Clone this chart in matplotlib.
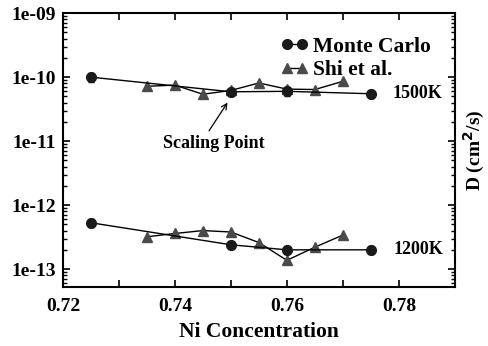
import matplotlib
matplotlib.use('Agg')
import matplotlib.pyplot as plt
from matplotlib.lines import Line2D
from matplotlib.ticker import FixedLocator, MultipleLocator, LogLocator, NullFormatter

plt.rcParams['font.family'] = ['Liberation Serif', 'DejaVu Serif']
plt.rcParams['font.weight'] = 'bold'

# Monte Carlo results
mc_x = [0.725, 0.75, 0.76, 0.775]
mc_1500 = [1.0e-10, 5.9e-11, 6.0e-11, 5.5e-11]
mc_1200 = [5.3e-13, 2.4e-13, 2.0e-13, 2.0e-13]
mc_err_frac = 0.15

# Shi et al.
shi_x = [0.735, 0.74, 0.745, 0.75, 0.755, 0.76, 0.765, 0.77]
shi_1500 = [7.2e-11, 7.5e-11, 5.4e-11, 6.2e-11, 8.1e-11, 6.5e-11, 6.4e-11, 8.6e-11]
shi_1200 = [3.2e-13, 3.6e-13, 4.0e-13, 3.8e-13, 2.6e-13, 1.37e-13, 2.2e-13, 3.4e-13]

fig = plt.figure(figsize=(4.88, 3.46), dpi=100)
ax = fig.add_axes([0.129, 0.1705, 0.803, 0.7915])

mc_style = dict(color='black', marker='o', mfc='#1a1a1a', mec='#1a1a1a', ms=7, lw=1)
shi_style = dict(color='black', marker='^', mfc='#4a4a4a', mec='#4a4a4a', ms=7, lw=1)

for mc, shi in [(mc_1500, shi_1500), (mc_1200, shi_1200)]:
    ax.errorbar(mc_x, mc, yerr=[v * mc_err_frac for v in mc], capsize=2, elinewidth=1,
                zorder=3, **mc_style)
    ax.plot(shi_x, shi, zorder=2, **shi_style)

ax.set_yscale('log')
ax.set_xlim(0.72, 0.79)
ax.set_ylim(10 ** -13.28, 1e-9)

ax.xaxis.set_major_locator(MultipleLocator(0.02))
ax.xaxis.set_minor_locator(MultipleLocator(0.01))
ax.yaxis.set_major_locator(FixedLocator([1e-13, 1e-12, 1e-11, 1e-10, 1e-9]))
ax.yaxis.set_minor_locator(LogLocator(base=10, subs=range(2, 10), numticks=20))
ax.yaxis.set_minor_formatter(NullFormatter())
ax.set_yticklabels(['1e-13', '1e-12', '1e-11', '1e-10', '1e-09'])
ax.set_xticklabels([f'{v:.2f}' for v in ax.get_xticks()])

ax.tick_params(which='both', direction='in', top=True, right=True, labelsize=14)
ax.tick_params(which='major', length=5, width=1.2, pad=5)
ax.tick_params(axis='x', which='major', pad=8)
ax.tick_params(which='minor', length=3, width=1)
ax.tick_params(axis='x', which='minor', length=5, width=1.2)
for s in ax.spines.values():
    s.set_linewidth(1.5)

ax.set_xlabel('Ni Concentration', fontsize=15.5, fontweight='bold', labelpad=5)
ax.yaxis.set_label_position('right')
ax.set_ylabel('D (cm$^\\mathbf{2}$/s)', fontsize=14, fontweight='bold', labelpad=5)

ax.text(0.7788, 5.6e-11, '1500K', fontsize=13, fontweight='bold', va='center', ha='left')
ax.text(0.779, 2.0e-13, '1200K', fontsize=13, fontweight='bold', va='center', ha='left')

# scaling point note
ax.text(0.747, 9.3e-12, 'Scaling Point', fontsize=13, fontweight='bold',
        ha='center', va='center')
ax.annotate('', xy=(0.7494, 4.0e-11), xytext=(0.7461, 1.45e-11),
            arrowprops=dict(arrowstyle='->', color='black', lw=0.9, shrinkA=0, shrinkB=0))

handles = [Line2D([], [], **mc_style), Line2D([], [], **shi_style)]
ax.legend(handles, ['Monte Carlo', 'Shi et al.'], loc='upper right', numpoints=2,
          frameon=False, handlelength=1.3, handletextpad=0.2, labelspacing=0.15,
          borderaxespad=0.7, prop={'weight': 'bold', 'size': 15.5})

fig.savefig('out.png', dpi=100)
